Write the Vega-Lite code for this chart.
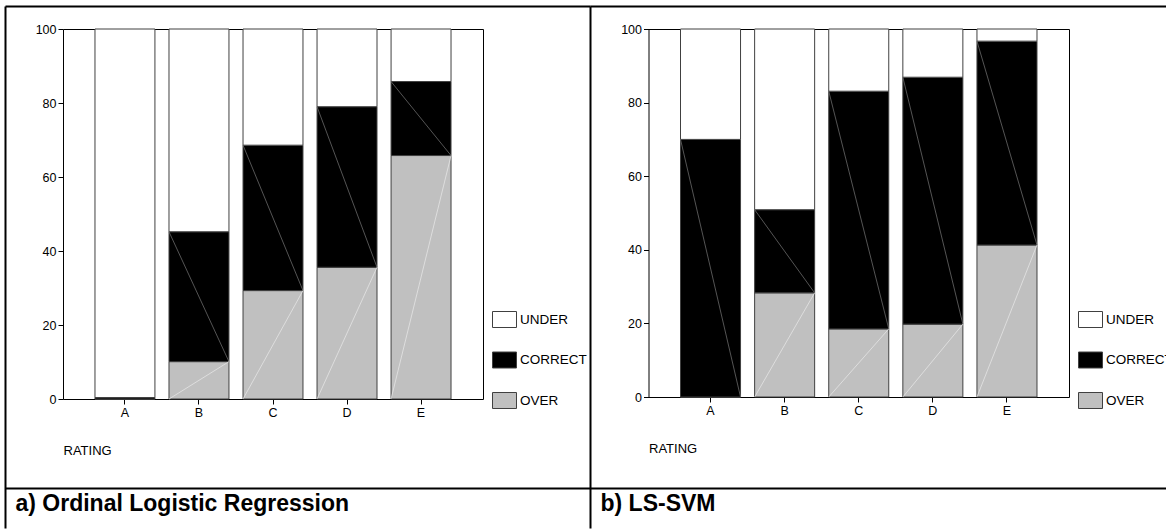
{
  "$schema": "https://vega.github.io/schema/vega-lite/v6.json",
  "background": "white",
  "padding": {"left": 2, "top": 6, "right": 0, "bottom": 0},
  "spacing": 0,
  "bounds": "flush",
  "config": {
    "view": {"stroke": null},
    "font": "Liberation Sans",
    "axis": {"labelFont": "Liberation Sans", "titleFont": "Liberation Sans", "labelColor": "black", "titleColor": "black", "domainColor": "black", "tickColor": "black", "grid": false},
    "legend": {"labelFont": "Liberation Sans", "labelColor": "black"}
  },
  "resolve": {"scale": {"color": "independent", "x": "independent", "y": "independent"}, "legend": {"color": "independent"}},
  "hconcat": [
    {
      "width": 585,
      "height": 522,
      "data": {"values": [
        {"rating": "A", "outcome": "OVER", "pct": 0, "rank": 1},
        {"rating": "A", "outcome": "CORRECT", "pct": 0.4, "rank": 2},
        {"rating": "A", "outcome": "UNDER", "pct": 99.6, "rank": 3},
        {"rating": "B", "outcome": "OVER", "pct": 10.1, "rank": 1},
        {"rating": "B", "outcome": "CORRECT", "pct": 35.1, "rank": 2},
        {"rating": "B", "outcome": "UNDER", "pct": 54.8, "rank": 3},
        {"rating": "C", "outcome": "OVER", "pct": 29.3, "rank": 1},
        {"rating": "C", "outcome": "CORRECT", "pct": 39.3, "rank": 2},
        {"rating": "C", "outcome": "UNDER", "pct": 31.4, "rank": 3},
        {"rating": "D", "outcome": "OVER", "pct": 35.6, "rank": 1},
        {"rating": "D", "outcome": "CORRECT", "pct": 43.4, "rank": 2},
        {"rating": "D", "outcome": "UNDER", "pct": 21.0, "rank": 3},
        {"rating": "E", "outcome": "OVER", "pct": 65.8, "rank": 1},
        {"rating": "E", "outcome": "CORRECT", "pct": 20.0, "rank": 2},
        {"rating": "E", "outcome": "UNDER", "pct": 14.2, "rank": 3}
      ]},
      "resolve": {"scale": {"x": "independent", "y": "independent"}, "axis": {"x": "independent", "y": "independent"}},
      "layer": [
        {
          "mark": {"type": "bar", "stroke": "#404040", "strokeWidth": 1},
          "encoding": {
            "x": {"field": "rating", "type": "nominal", "sort": ["A", "B", "C", "D", "E"],
              "scale": {"domain": ["A", "B", "C", "D", "E"], "range": [58, 478], "paddingInner": 0.19, "paddingOuter": 0.432},
              "axis": {"orient": "bottom", "offset": -129, "labelAngle": 0, "labelFontSize": 12.5, "labelPadding": 2, "tickSize": 5, "title": "RATING", "titleFontSize": 13, "titleFontWeight": "normal", "titleAnchor": "start", "titleAlign": "left", "titlePadding": 26}},
            "y": {"field": "pct", "type": "quantitative", "stack": "zero",
              "scale": {"domain": [0, 100], "range": [393, 23], "nice": false},
              "axis": {"orient": "left", "offset": -58, "values": [0, 20, 40, 60, 80, 100], "labelFontSize": 12.5, "labelPadding": 2, "tickSize": 5, "title": null}},
            "color": {"field": "outcome", "type": "nominal",
              "scale": {"domain": ["UNDER", "CORRECT", "OVER"], "range": ["#ffffff", "#000000", "#c0c0c0"]},
              "legend": {"orient": "none", "legendX": 487, "legendY": 305, "title": null, "padding": 0, "symbolType": "M-1,-1H2V1H-1Z", "symbolSize": 256, "symbolStrokeColor": "#404040", "symbolStrokeWidth": 1, "labelFontSize": 13.5, "labelOffset": 11, "rowPadding": 19.5}},
            "order": {"field": "rank", "type": "quantitative"}
          }
        },
        {
          "transform": [
            {"stack": "pct", "groupby": ["rating"], "sort": [{"field": "rank", "order": "ascending"}], "as": ["lo", "hi"]},
            {"filter": "datum.outcome === 'CORRECT' && datum.pct > 1"}
          ],
          "mark": {"type": "rule", "stroke": "#6a6a6a", "strokeWidth": 0.8},
          "encoding": {
            "x": {"field": "rating", "type": "nominal", "bandPosition": 0,
              "scale": {"domain": ["A", "B", "C", "D", "E"], "range": [58, 478], "paddingInner": 0.19, "paddingOuter": 0.432}, "axis": null},
            "x2": {"field": "rating", "bandPosition": 1},
            "y": {"field": "hi", "type": "quantitative", "scale": {"domain": [0, 100], "range": [393, 23], "nice": false}, "axis": null},
            "y2": {"field": "lo"}
          }
        },
        {
          "transform": [
            {"stack": "pct", "groupby": ["rating"], "sort": [{"field": "rank", "order": "ascending"}], "as": ["lo", "hi"]},
            {"filter": "datum.outcome === 'OVER' && datum.pct > 1"}
          ],
          "mark": {"type": "rule", "stroke": "#e4e4e4", "strokeWidth": 0.8},
          "encoding": {
            "x": {"field": "rating", "type": "nominal", "bandPosition": 0,
              "scale": {"domain": ["A", "B", "C", "D", "E"], "range": [58, 478], "paddingInner": 0.19, "paddingOuter": 0.432}, "axis": null},
            "x2": {"field": "rating", "bandPosition": 1},
            "y": {"field": "lo", "type": "quantitative", "scale": {"domain": [0, 100], "range": [393, 23], "nice": false}, "axis": null},
            "y2": {"field": "hi"}
          }
        },
        {
          "mark": {"type": "point", "opacity": 0},
          "encoding": {
            "x": {"field": "rating", "type": "nominal", "sort": ["A", "B", "C", "D", "E"],
              "scale": {"domain": ["A", "B", "C", "D", "E"], "range": [58, 478], "paddingInner": 0.19, "paddingOuter": 0.432},
              "axis": {"orient": "top", "offset": -23, "labels": false, "ticks": false, "title": null}},
            "y": {"field": "pct", "type": "quantitative",
              "scale": {"domain": [0, 100], "range": [393, 23], "nice": false},
              "axis": {"orient": "right", "offset": -107, "labels": false, "ticks": false, "title": null}}
          }
        },
        {
          "mark": {"type": "point", "opacity": 0},
          "encoding": {
            "x": {"datum": 0, "type": "quantitative", "scale": {"domain": [0, 1]},
              "axis": {"orient": "bottom", "offset": -40, "labels": false, "ticks": false, "domainWidth": 2, "title": "a) Ordinal Logistic Regression", "titleX": 10, "titleY": 22, "titleAlign": "left", "titleBaseline": "alphabetic", "titleFontSize": 23, "titleFontWeight": "bold"}},
            "y": {"datum": 0, "type": "quantitative", "scale": {"domain": [0, 1]},
              "axis": {"orient": "left", "offset": 0, "labels": false, "ticks": false, "domainWidth": 2, "title": null}}
          }
        },
        {
          "mark": {"type": "point", "opacity": 0},
          "encoding": {
            "x": {"datum": 0, "type": "quantitative", "scale": {"domain": [0, 1]},
              "axis": {"orient": "top", "offset": 0, "labels": false, "ticks": false, "domainWidth": 2, "title": null}}
          }
        }
      ]
    },
    {
      "width": 576,
      "height": 522,
      "data": {"values": [
        {"rating": "A", "outcome": "OVER", "pct": 0, "rank": 1},
        {"rating": "A", "outcome": "CORRECT", "pct": 70.0, "rank": 2},
        {"rating": "A", "outcome": "UNDER", "pct": 30.0, "rank": 3},
        {"rating": "B", "outcome": "OVER", "pct": 28.3, "rank": 1},
        {"rating": "B", "outcome": "CORRECT", "pct": 22.6, "rank": 2},
        {"rating": "B", "outcome": "UNDER", "pct": 49.1, "rank": 3},
        {"rating": "C", "outcome": "OVER", "pct": 18.5, "rank": 1},
        {"rating": "C", "outcome": "CORRECT", "pct": 64.6, "rank": 2},
        {"rating": "C", "outcome": "UNDER", "pct": 16.9, "rank": 3},
        {"rating": "D", "outcome": "OVER", "pct": 19.8, "rank": 1},
        {"rating": "D", "outcome": "CORRECT", "pct": 67.1, "rank": 2},
        {"rating": "D", "outcome": "UNDER", "pct": 13.1, "rank": 3},
        {"rating": "E", "outcome": "OVER", "pct": 41.3, "rank": 1},
        {"rating": "E", "outcome": "CORRECT", "pct": 55.4, "rank": 2},
        {"rating": "E", "outcome": "UNDER", "pct": 3.3, "rank": 3}
      ]},
      "resolve": {"scale": {"x": "independent", "y": "independent"}, "axis": {"x": "independent", "y": "independent"}},
      "layer": [
        {
          "mark": {"type": "bar", "stroke": "#404040", "strokeWidth": 1},
          "encoding": {
            "x": {"field": "rating", "type": "nominal", "sort": ["A", "B", "C", "D", "E"],
              "scale": {"domain": ["A", "B", "C", "D", "E"], "range": [58.5, 479], "paddingInner": 0.19, "paddingOuter": 0.432},
              "axis": {"orient": "bottom", "offset": -131, "labelAngle": 0, "labelFontSize": 12.5, "labelPadding": 2, "tickSize": 5, "title": "RATING", "titleFontSize": 13, "titleFontWeight": "normal", "titleAnchor": "start", "titleAlign": "left", "titlePadding": 26}},
            "y": {"field": "pct", "type": "quantitative", "stack": "zero",
              "scale": {"domain": [0, 100], "range": [391, 23], "nice": false},
              "axis": {"orient": "left", "offset": -58.5, "values": [0, 20, 40, 60, 80, 100], "labelFontSize": 12.5, "labelPadding": 2, "tickSize": 5, "title": null}},
            "color": {"field": "outcome", "type": "nominal",
              "scale": {"domain": ["UNDER", "CORRECT", "OVER"], "range": ["#ffffff", "#000000", "#c0c0c0"]},
              "legend": {"orient": "none", "legendX": 488, "legendY": 305, "title": null, "padding": 0, "symbolType": "M-1,-1H2V1H-1Z", "symbolSize": 256, "symbolStrokeColor": "#404040", "symbolStrokeWidth": 1, "labelFontSize": 13.5, "labelOffset": 11, "rowPadding": 19.5}},
            "order": {"field": "rank", "type": "quantitative"}
          }
        },
        {
          "transform": [
            {"stack": "pct", "groupby": ["rating"], "sort": [{"field": "rank", "order": "ascending"}], "as": ["lo", "hi"]},
            {"filter": "datum.outcome === 'CORRECT' && datum.pct > 1"}
          ],
          "mark": {"type": "rule", "stroke": "#6a6a6a", "strokeWidth": 0.8},
          "encoding": {
            "x": {"field": "rating", "type": "nominal", "bandPosition": 0,
              "scale": {"domain": ["A", "B", "C", "D", "E"], "range": [58.5, 479], "paddingInner": 0.19, "paddingOuter": 0.432}, "axis": null},
            "x2": {"field": "rating", "bandPosition": 1},
            "y": {"field": "hi", "type": "quantitative", "scale": {"domain": [0, 100], "range": [391, 23], "nice": false}, "axis": null},
            "y2": {"field": "lo"}
          }
        },
        {
          "transform": [
            {"stack": "pct", "groupby": ["rating"], "sort": [{"field": "rank", "order": "ascending"}], "as": ["lo", "hi"]},
            {"filter": "datum.outcome === 'OVER' && datum.pct > 1"}
          ],
          "mark": {"type": "rule", "stroke": "#e4e4e4", "strokeWidth": 0.8},
          "encoding": {
            "x": {"field": "rating", "type": "nominal", "bandPosition": 0,
              "scale": {"domain": ["A", "B", "C", "D", "E"], "range": [58.5, 479], "paddingInner": 0.19, "paddingOuter": 0.432}, "axis": null},
            "x2": {"field": "rating", "bandPosition": 1},
            "y": {"field": "lo", "type": "quantitative", "scale": {"domain": [0, 100], "range": [391, 23], "nice": false}, "axis": null},
            "y2": {"field": "hi"}
          }
        },
        {
          "mark": {"type": "point", "opacity": 0},
          "encoding": {
            "x": {"field": "rating", "type": "nominal", "sort": ["A", "B", "C", "D", "E"],
              "scale": {"domain": ["A", "B", "C", "D", "E"], "range": [58.5, 479], "paddingInner": 0.19, "paddingOuter": 0.432},
              "axis": {"orient": "top", "offset": -23, "labels": false, "ticks": false, "title": null}},
            "y": {"field": "pct", "type": "quantitative",
              "scale": {"domain": [0, 100], "range": [391, 23], "nice": false},
              "axis": {"orient": "right", "offset": -97, "labels": false, "ticks": false, "title": null}}
          }
        },
        {
          "mark": {"type": "point", "opacity": 0},
          "encoding": {
            "x": {"datum": 0, "type": "quantitative", "scale": {"domain": [0, 1]},
              "axis": {"orient": "bottom", "offset": -40, "labels": false, "ticks": false, "domainWidth": 2, "title": "b) LS-SVM", "titleX": 10, "titleY": 22, "titleAlign": "left", "titleBaseline": "alphabetic", "titleFontSize": 23, "titleFontWeight": "bold"}},
            "y": {"datum": 0, "type": "quantitative", "scale": {"domain": [0, 1]},
              "axis": {"orient": "left", "offset": 0, "labels": false, "ticks": false, "domainWidth": 2, "title": null}}
          }
        },
        {
          "mark": {"type": "point", "opacity": 0},
          "encoding": {
            "x": {"datum": 0, "type": "quantitative", "scale": {"domain": [0, 1]},
              "axis": {"orient": "top", "offset": 0, "labels": false, "ticks": false, "domainWidth": 2, "title": null}}
          }
        }
      ]
    }
  ]
}
